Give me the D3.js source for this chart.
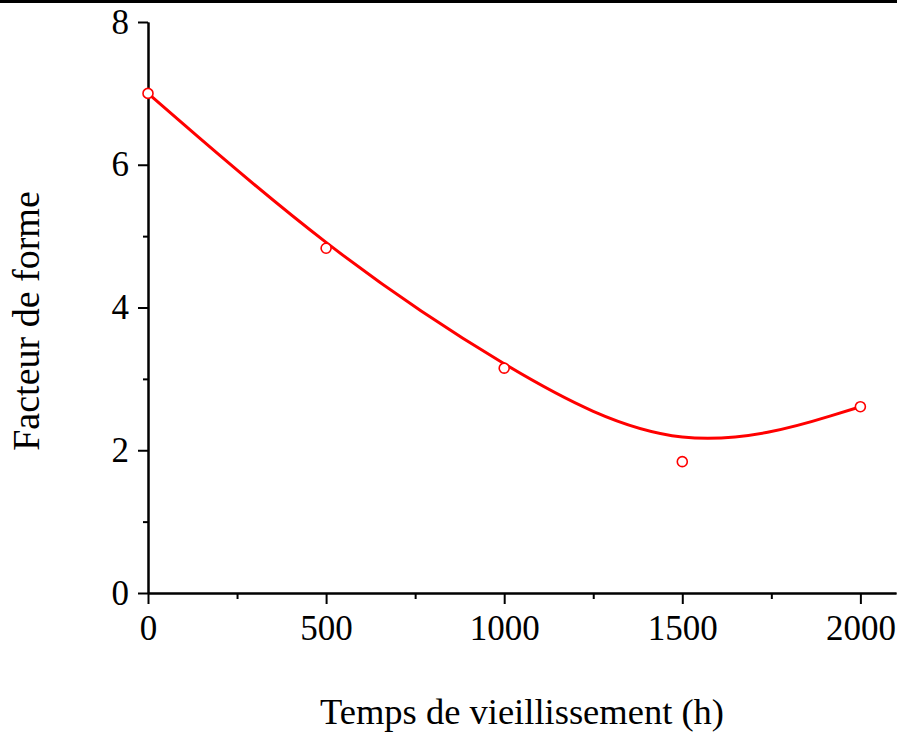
<!DOCTYPE html>
<html>
<head>
<meta charset="utf-8">
<script src="https://cdn.jsdelivr.net/npm/d3@7"></script>
<style>
  html, body { margin: 0; padding: 0; background: #fff; }
  svg { display: block; }
  text { font-family: "Liberation Serif", "Times New Roman", serif; fill: #000; }
</style>
</head>
<body>
<svg id="chart" width="899" height="745"></svg>
<script>
// Aging time (h) and measured shape factor
const hours = [0, 500, 1000, 1500, 2000];
const shapeFactor = [7.0, 4.83, 3.15, 1.84, 2.61];

const xMajorTicks = [0, 500, 1000, 1500, 2000];
const xMinorTicks = [250, 750, 1250, 1750];
const yMajorTicks = [0, 2, 4, 6, 8];
const yMinorTicks = [1, 3, 5, 7];

const xTitle = "Temps de vieillissement (h)";
const yTitle = "Facteur de forme";

const svg = d3.select("#chart");

const x = d3.scaleLinear().domain([0, 2100]).range([148, 896]);
const y = d3.scaleLinear().domain([0, 8]).range([593, 22]);

// heavy rule along the top edge
svg.append("rect")
  .attr("x", 0).attr("y", 0)
  .attr("width", 897).attr("height", 3)
  .attr("fill", "#000");

function styleAxis(g) {
  g.select(".domain").attr("stroke", "#000").attr("stroke-width", 2);
  g.selectAll(".tick line").attr("stroke", "#000").attr("stroke-width", 2);
  g.selectAll(".tick text")
    .attr("font-family", "Liberation Serif, Times New Roman, serif")
    .attr("font-size", 35)
    .attr("fill", "#000");
}

// x axis: minor ticks, then major ticks with labels
svg.append("g")
  .attr("transform", `translate(0,${y(0)})`)
  .call(d3.axisBottom(x).tickValues(xMinorTicks).tickSize(6).tickSizeOuter(0).tickFormat(""))
  .call(styleAxis);

svg.append("g")
  .attr("transform", `translate(0,${y(0)})`)
  .call(d3.axisBottom(x).tickValues(xMajorTicks).tickSize(11).tickSizeOuter(0).tickPadding(11).tickFormat(d3.format("d")))
  .call(styleAxis);

// y axis
svg.append("g")
  .attr("transform", `translate(${x(0)},0)`)
  .call(d3.axisLeft(y).tickValues(yMinorTicks).tickSize(5).tickSizeOuter(0).tickFormat(""))
  .call(styleAxis);

svg.append("g")
  .attr("transform", `translate(${x(0)},0)`)
  .call(d3.axisLeft(y).tickValues(yMajorTicks).tickSize(10).tickSizeOuter(0).tickPadding(9).tickFormat(d3.format("d")))
  .call(styleAxis);

// smooth B-spline through the measurements
const pts = hours.map((h, i) => [h, shapeFactor[i]]);
svg.append("path")
  .datum(pts)
  .attr("fill", "none")
  .attr("stroke", "#ff0000")
  .attr("stroke-width", 3)
  .attr("d", d3.line().x(d => x(d[0])).y(d => y(d[1])).curve(d3.curveBasis));

// measured points
svg.append("g")
  .selectAll("circle")
  .data(pts)
  .join("circle")
  .attr("cx", d => x(d[0]))
  .attr("cy", d => y(d[1]))
  .attr("r", 5)
  .attr("fill", "#fff")
  .attr("stroke", "#ff0000")
  .attr("stroke-width", 1.6);

// axis titles
svg.append("text")
  .attr("x", 522).attr("y", 724)
  .attr("text-anchor", "middle")
  .attr("font-size", 36.5)
  .text(xTitle);

svg.append("text")
  .attr("transform", "translate(39,321) rotate(-90)")
  .attr("text-anchor", "middle")
  .attr("font-size", 38)
  .text(yTitle);
</script>
</body>
</html>
